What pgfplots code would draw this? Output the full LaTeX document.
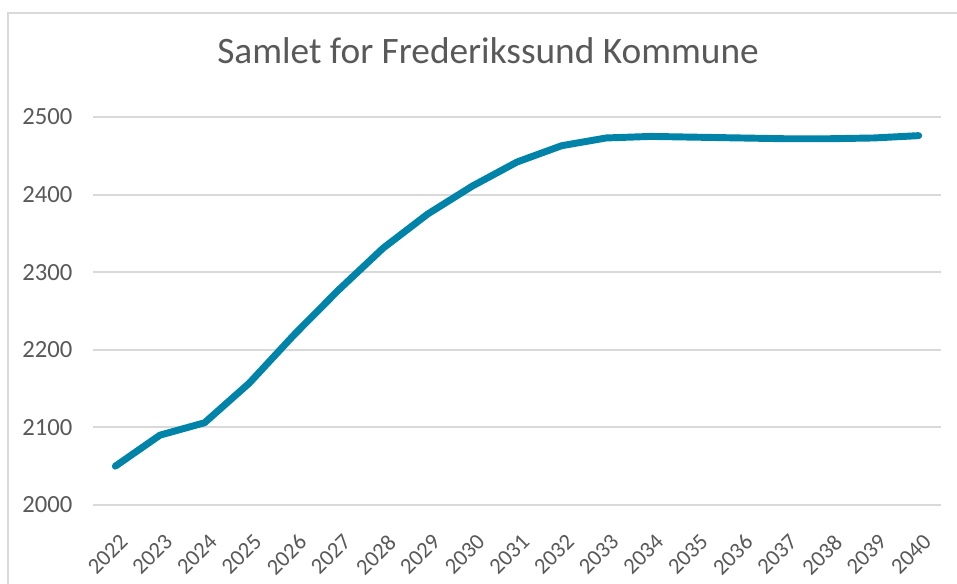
\documentclass[border=0pt]{standalone}
\usepackage{pgfplots}
\pgfplotsset{compat=1.18}
\usepackage{fontspec}
\setmainfont{Carlito}
\definecolor{linec}{RGB}{0,131,168}
\definecolor{txt}{RGB}{89,89,89}
\definecolor{gridc}{RGB}{217,217,217}
\begin{document}
\begin{tikzpicture}[x=1pt,y=1pt]
\useasboundingbox (0,0) rectangle (717.75,437.25);
\fill[white] (0,0) rectangle (717.75,437.25);
\draw[gridc,line width=1.5pt] (6,-5) -- (6,427.5) -- (725,427.5);
\node[txt,font=\fontsize{28}{32}\selectfont] at (366,399.5) {Samlet for Frederikssund Kommune};
\begin{axis}[
  at={(69.75pt,58.5pt)}, anchor=south west,
  scale only axis, width=636pt, height=291pt,
  xmin=-0.5, xmax=18.5, ymin=2000, ymax=2500,
  axis line style={draw=none},
  xtick={0,...,18},
  xticklabels={2022,2023,2024,2025,2026,2027,2028,2029,2030,2031,2032,2033,2034,2035,2036,2037,2038,2039,2040},
  ytick={2000,2100,2200,2300,2400,2500},
  major tick length=0pt,
  ymajorgrids, grid style={gridc,line width=1.5pt},
  /pgf/number format/assume math mode=true,
  /pgf/number format/1000 sep={},
  tick label style={txt},
  yticklabel style={xshift=-12pt,font=\fontsize{18.5}{22}\selectfont},
  xticklabel style={font=\fontsize{17}{20}\selectfont,anchor=north east,xshift=2.5pt,yshift=-16pt,rotate=45},
  clip=false,
]
\addplot[linec,line width=5.2pt,line join=round,line cap=round] coordinates {
(0,2050) (1,2090) (2,2106) (3,2157) (4,2219) (5,2277) (6,2331) (7,2375) (8,2411) (9,2442) (10,2463) (11,2473) (12,2475) (13,2474) (14,2473) (15,2472) (16,2472) (17,2473) (18,2476)
};
\end{axis}
\end{tikzpicture}
\end{document}
